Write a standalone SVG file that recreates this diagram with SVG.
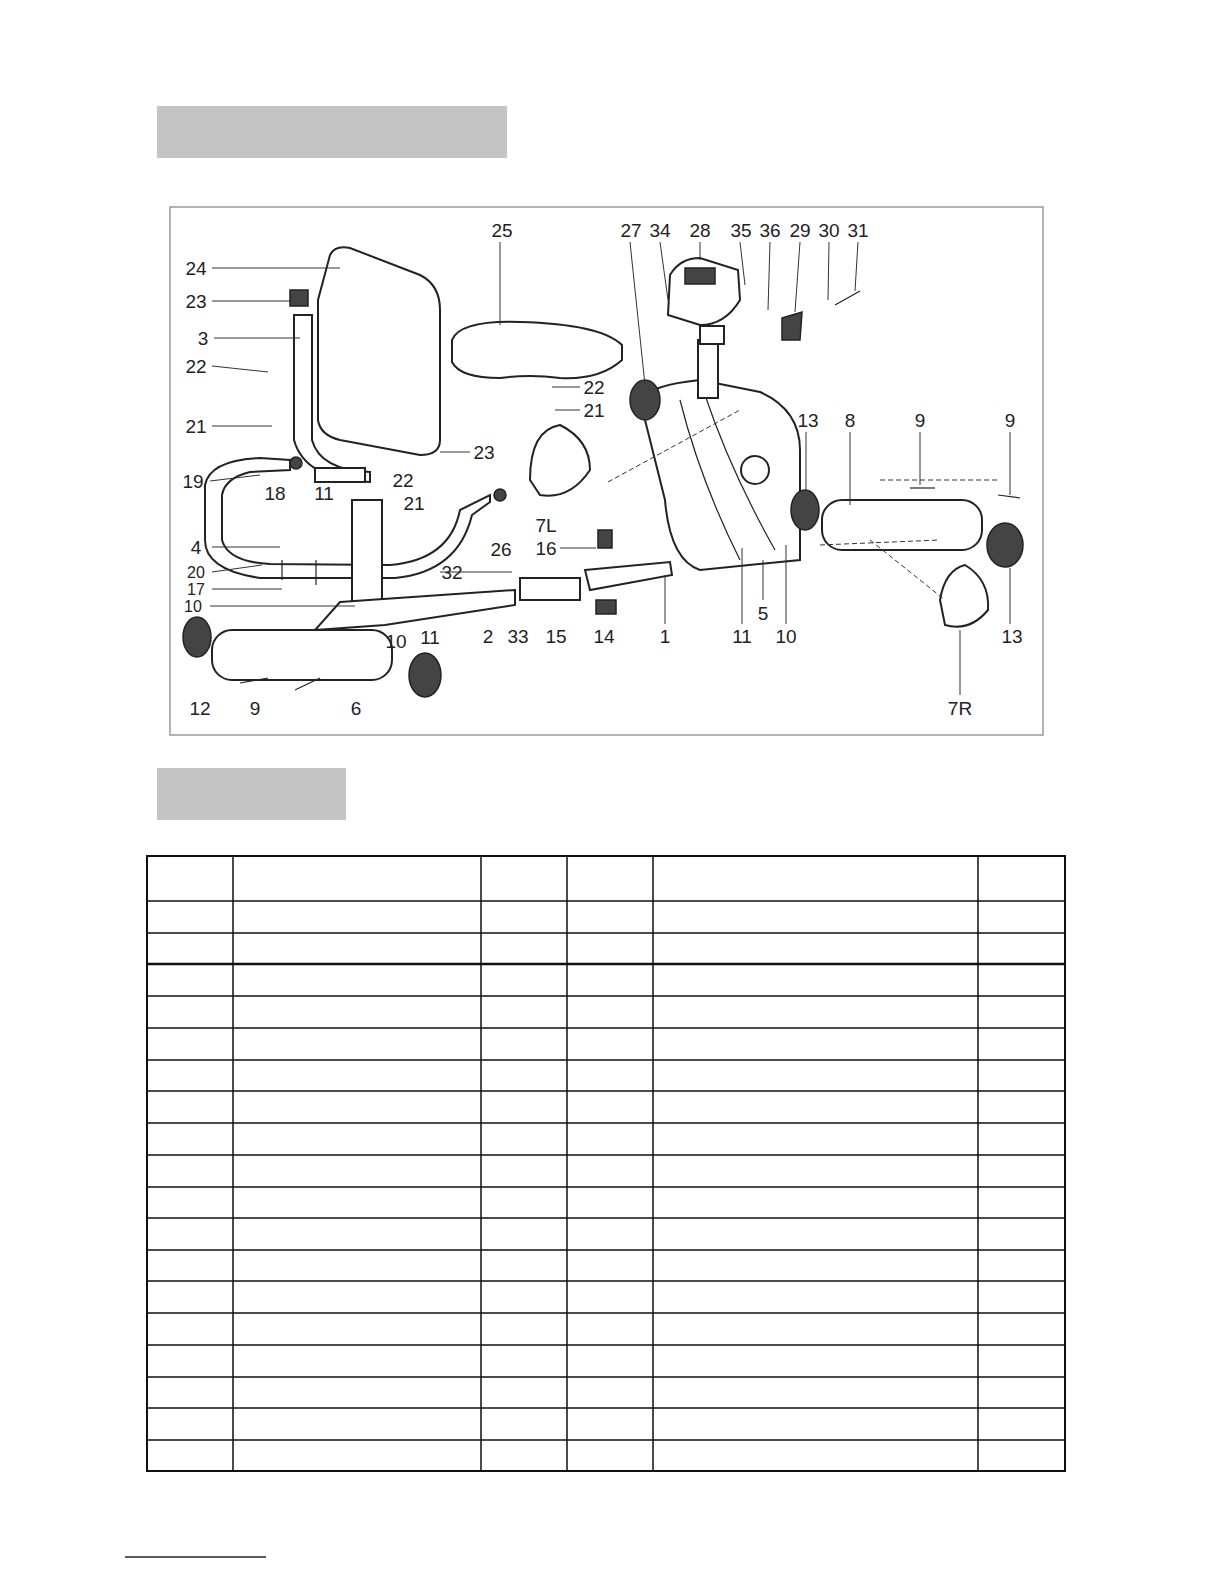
<svg xmlns="http://www.w3.org/2000/svg" width="1224" height="1584" viewBox="0 0 1224 1584">
<style>
.l{font-family:"Liberation Sans",Arial,sans-serif;font-size:19px;fill:#222;text-anchor:middle}
.s{font-size:16px}
.p{fill:#fff;stroke:#222;stroke-width:2}
.d{fill:#444;stroke:#222;stroke-width:1.5}
.k{stroke:#333;stroke-width:1;fill:none}
.g{stroke:#222;stroke-width:1.2;fill:none}
</style>
<rect width="1224" height="1584" fill="#fff"/>
<rect x="157" y="106" width="350" height="52" fill="#c4c4c4"/>
<rect x="170" y="207" width="873" height="528" fill="none" stroke="#999" stroke-width="1.5"/>
<rect x="157" y="768" width="189" height="52" fill="#c4c4c4"/>
<g id="parts">
<path class="p" d="M330 255 Q335 245 350 248 L420 275 Q440 285 440 310 L440 440 Q440 455 420 455 L340 440 Q320 435 318 420 L318 300 Z"/>
<path class="p" d="M294 315 L312 315 L312 440 Q320 470 370 472 L370 482 Q305 480 294 440 Z"/>
<rect class="d" x="290" y="290" width="18" height="16"/>
<path class="p" d="M452 340 Q460 320 520 322 Q600 324 622 345 L622 360 Q600 380 560 378 Q530 374 500 378 Q460 378 452 362 Z"/>
<path class="p" d="M205 485 Q210 460 260 458 L290 460 L290 470 L250 472 Q225 478 222 495 L222 540 Q228 562 270 564 L390 565 Q450 560 460 510 L490 495 L490 502 L472 515 Q458 572 395 578 L260 578 Q205 570 205 540 Z"/>
<rect class="p" x="315" y="468" width="50" height="14"/>
<rect class="p" x="352" y="500" width="30" height="112"/>
<path class="p" d="M340 602 L515 590 L515 605 L385 625 L315 630 Z"/>
<rect class="p" x="520" y="578" width="60" height="22"/>
<path class="p" d="M585 570 L670 562 L672 575 L590 590 Z"/>
<path class="p" d="M640 400 Q650 385 700 380 L760 392 Q800 410 800 450 L800 560 L700 570 Q670 560 665 500 Z"/>
<path class="g" d="M680 400 Q700 480 740 560 M705 395 Q730 470 775 550"/>
<circle class="p" cx="755" cy="470" r="14"/>
<rect class="p" x="698" y="340" width="20" height="58"/>
<path class="p" d="M670 275 Q680 258 700 258 L738 270 L740 300 Q725 325 700 325 L668 315 Z"/>
<rect class="d" x="685" y="268" width="30" height="16"/>
<rect class="p" x="700" y="326" width="24" height="18"/>
<path class="d" d="M782 318 L802 312 L800 340 L782 340 Z"/>
<line class="g" x1="835" y1="305" x2="860" y2="291"/>
<ellipse class="d" cx="645" cy="400" rx="15" ry="20"/>
<path class="p" d="M530 480 Q530 430 560 425 Q590 440 590 470 Q570 500 540 495 Z"/>
<rect class="d" x="598" y="530" width="14" height="18"/>
<rect class="d" x="596" y="600" width="20" height="14"/>
<rect class="p" x="822" y="500" width="160" height="50" rx="20"/>
<ellipse class="d" cx="805" cy="510" rx="14" ry="20"/>
<ellipse class="d" cx="1005" cy="545" rx="18" ry="22"/>
<rect class="p" x="212" y="630" width="180" height="50" rx="20"/>
<ellipse class="d" cx="197" cy="637" rx="14" ry="20"/>
<ellipse class="d" cx="425" cy="675" rx="16" ry="22"/>
<path class="p" d="M940 600 Q945 570 965 565 Q990 580 988 610 Q970 632 945 625 Z"/>
<circle class="d" cx="296" cy="463" r="6"/><circle class="d" cx="500" cy="495" r="6"/>
<line class="g" x1="240" y1="683" x2="268" y2="678"/><line class="g" x1="295" y1="690" x2="320" y2="678"/>
<line class="g" x1="282" y1="560" x2="282" y2="580"/><line class="g" x1="316" y1="560" x2="316" y2="585"/>
<line class="g" x1="910" y1="488" x2="935" y2="488"/><line class="g" x1="998" y1="495" x2="1020" y2="498"/>
</g>
<g id="connectors" class="k">
<path d="M212 268 L340 268 M212 301 L290 301 M214 338 L300 338 M212 366 L268 372 M212 426 L272 426 M210 481 L260 475 M212 547 L280 547 M212 572 L262 565 M212 589 L282 589 M210 606 L355 606 M500 242 L500 325 M630 242 L645 385 M660 242 L668 300 M700 242 L700 260 M740 242 L745 285 M770 242 L768 310 M800 242 L795 312 M829 242 L828 300 M858 242 L855 291 M470 452 L440 452 M580 387 L552 387 M580 410 L555 410 M560 548 L596 548 M440 572 L512 572 M806 432 L806 490 M850 432 L850 505 M920 432 L920 485 M1010 432 L1010 495 M1010 624 L1010 568 M960 695 L960 630 M763 600 L763 560 M665 624 L665 575 M742 624 L742 548 M786 624 L786 545"/>
<path d="M608 482 L740 410 M870 540 L945 600 M820 545 L940 540 M880 480 L1000 480" stroke-dasharray="5 3"/>
</g>
<g id="labels">
<text class="l" x="196" y="275">24</text><text class="l" x="196" y="308">23</text><text class="l" x="203" y="345">3</text>
<text class="l" x="196" y="373">22</text><text class="l" x="196" y="433">21</text><text class="l" x="193" y="488">19</text>
<text class="l" x="275" y="500">18</text><text class="l" x="324" y="500">11</text><text class="l" x="403" y="487">22</text>
<text class="l" x="414" y="510">21</text><text class="l" x="196" y="554">4</text><text class="l s" x="196" y="578">20</text>
<text class="l s" x="196" y="595">17</text><text class="l s" x="193" y="612">10</text><text class="l" x="200" y="715">12</text>
<text class="l" x="255" y="715">9</text><text class="l" x="356" y="715">6</text><text class="l" x="396" y="648">10</text>
<text class="l" x="430" y="644">11</text><text class="l" x="488" y="643">2</text><text class="l" x="518" y="643">33</text>
<text class="l" x="556" y="643">15</text><text class="l" x="604" y="643">14</text><text class="l" x="665" y="643">1</text>
<text class="l" x="742" y="643">11</text><text class="l" x="763" y="620">5</text><text class="l" x="786" y="643">10</text>
<text class="l" x="452" y="579">32</text><text class="l" x="501" y="556">26</text><text class="l" x="546" y="555">16</text>
<text class="l" x="546" y="532">7L</text><text class="l" x="502" y="237">25</text><text class="l" x="631" y="237">27</text>
<text class="l" x="660" y="237">34</text><text class="l" x="700" y="237">28</text><text class="l" x="741" y="237">35</text>
<text class="l" x="770" y="237">36</text><text class="l" x="800" y="237">29</text><text class="l" x="829" y="237">30</text>
<text class="l" x="858" y="237">31</text><text class="l" x="594" y="394">22</text><text class="l" x="594" y="417">21</text>
<text class="l" x="484" y="459">23</text><text class="l" x="808" y="427">13</text><text class="l" x="850" y="427">8</text>
<text class="l" x="920" y="427">9</text><text class="l" x="1010" y="427">9</text><text class="l" x="1012" y="643">13</text>
<text class="l" x="960" y="715">7R</text>
</g>
<g id="table" stroke="#111" stroke-width="1.5" fill="none">
<rect x="147" y="856" width="918" height="615" stroke-width="2"/>
<path d="M233 856V1471M481 856V1471M567 856V1471M653 856V1471M978 856V1471"/>
<path d="M147 901H1065M147 933H1065M147 996H1065M147 1028H1065M147 1060H1065M147 1091H1065M147 1123H1065M147 1155H1065M147 1187H1065M147 1218H1065M147 1250H1065M147 1281H1065M147 1313H1065M147 1345H1065M147 1377H1065M147 1408H1065M147 1440H1065"/>
<path d="M147 964H1065" stroke-width="2.5"/>
</g>
<line x1="125" y1="1557" x2="266" y2="1557" stroke="#222" stroke-width="1.5"/>
</svg>
